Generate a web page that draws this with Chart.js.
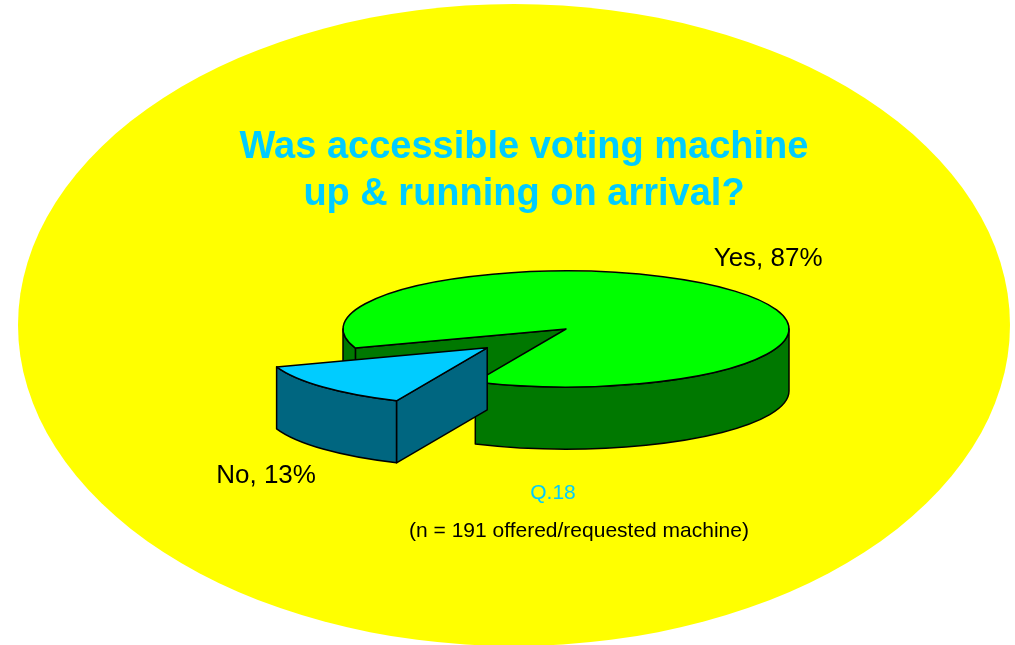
<!DOCTYPE html>
<html>
<head>
<meta charset="utf-8">
<title>Accessible voting machine</title>
<script src="https://cdn.jsdelivr.net/npm/chart.js@4.4.0/dist/chart.umd.min.js"></script>
<style>
  html, body { margin: 0; padding: 0; background: #ffffff; }
  #wrap { width: 1015px; height: 645px; position: relative; }
  canvas { display: block; }
</style>
</head>
<body>
<div id="wrap"><canvas id="chart" width="1015" height="645"></canvas></div>
<script>
// ---- data ----
const categories = ['Yes', 'No'];
const percentages = [87, 13];
const titleLines = ['Was accessible voting machine', 'up & running on arrival?'];
const questionLabel = 'Q.18';
const sampleNote = '(n = 191 offered/requested machine)';

// ---- look ----
const topColors = ['#00FF00', '#00CCFF'];
const wallColors = ['#007800', '#006680'];
const explodeFraction = [0, 0.48];    // how far each slice is pulled out, as share of radius
const TILT = 0.26;                    // vertical squash of the pie top
const DEPTH = 62;                     // height of the pie walls in px
const FONT = '"Liberation Sans", Arial, Helvetica, sans-serif';
const TAU = Math.PI * 2;

const backdrop = { cx: 514, cy: 325, rx: 496, ry: 321, color: '#FFFF00' };
const labelOffsets = [{ dx: 38, dy: -24 }, { dx: -57, dy: 34 }];

// geometry of one slice in screen space
function sliceGeometry(arc, i) {
  const p = arc.getProps(['x', 'y', 'startAngle', 'endAngle', 'outerRadius'], true);
  const mid = (p.startAngle + p.endAngle) / 2;
  const ex = explodeFraction[i] * p.outerRadius;
  const cx = p.x + Math.cos(mid) * ex;
  const cy = p.y + Math.sin(mid) * ex * TILT;
  const R = p.outerRadius;
  const P = (a, r, z) => [cx + r * Math.cos(a), cy + r * Math.sin(a) * TILT + z];
  return { x: p.x, y: p.y, s: p.startAngle, e: p.endAngle, mid, cx, cy, R, P };
}

function polygon(ctx, pts) {
  ctx.beginPath();
  ctx.moveTo(pts[0][0], pts[0][1]);
  for (let k = 1; k < pts.length; k++) ctx.lineTo(pts[k][0], pts[k][1]);
  ctx.closePath();
}

// draws the walls, lets Chart.js paint the squashed top, then outlines it
function drawSlice3D(ctx, arc, i, baseDraw, area) {
  const g = sliceGeometry(arc, i);
  const { s, e, cx, cy, R, P } = g;
  const ry = R * TILT;
  ctx.save();
  ctx.lineWidth = 1.5;
  ctx.strokeStyle = '#000000';
  ctx.lineJoin = 'round';
  ctx.fillStyle = wallColors[i];

  // radial faces that turn toward the viewer
  const faces = [];
  if (Math.cos(s) < 0) faces.push(s);
  if (Math.cos(e) > 0) faces.push(e);
  faces.forEach(a => {
    polygon(ctx, [P(a, 0, 0), P(a, R, 0), P(a, R, DEPTH), P(a, 0, DEPTH)]);
    ctx.fill();
    ctx.stroke();
  });

  // curved outer wall, front half only
  for (let k = Math.floor(s / TAU) - 1; k <= Math.ceil(e / TAU) + 1; k++) {
    const a = Math.max(s, k * TAU);
    const b = Math.min(e, k * TAU + Math.PI);
    if (b - a > 1e-4) {
      ctx.beginPath();
      ctx.ellipse(cx, cy, R, ry, 0, a, b, false);
      ctx.ellipse(cx, cy + DEPTH, R, ry, 0, b, a, true);
      ctx.closePath();
      ctx.fill();
      ctx.stroke();
    }
  }

  // top face painted by the arc element itself
  ctx.save();
  ctx.translate(cx, cy);
  ctx.scale(1, TILT);
  ctx.translate(-g.x, -g.y);
  baseDraw.call(arc, ctx, area);
  ctx.restore();

  // top outline
  const c0 = P(s, 0, 0), c1 = P(s, R, 0);
  ctx.beginPath();
  ctx.moveTo(c0[0], c0[1]);
  ctx.lineTo(c1[0], c1[1]);
  ctx.ellipse(cx, cy, R, ry, 0, s, e, false);
  ctx.closePath();
  ctx.stroke();
  ctx.restore();
}

const pie3d = {
  id: 'pie3d',
  beforeDraw(chart) {
    const ctx = chart.ctx;
    ctx.save();
    ctx.fillStyle = '#ffffff';
    ctx.fillRect(0, 0, chart.width, chart.height);
    ctx.fillStyle = backdrop.color;
    ctx.beginPath();
    ctx.ellipse(backdrop.cx, backdrop.cy, backdrop.rx, backdrop.ry, 0, 0, TAU);
    ctx.fill();
    ctx.restore();
  },
  beforeDatasetsDraw(chart) {
    const meta = chart.getDatasetMeta(0);
    meta.data.forEach((arc, i) => {
      if (arc._wrapped3d) return;
      const baseDraw = Object.getPrototypeOf(arc).draw;
      arc.draw = function (ctx, area) { drawSlice3D(ctx, this, i, baseDraw, area); };
      arc._wrapped3d = true;
    });
  },
  afterDraw(chart) {
    const ctx = chart.ctx;
    ctx.save();
    // title
    ctx.fillStyle = '#00CCFF';
    ctx.textAlign = 'center';
    ctx.textBaseline = 'alphabetic';
    ctx.font = 'bold 38px ' + FONT;
    ctx.fillText(titleLines[0], 524, 158);
    ctx.fillText(titleLines[1], 524, 205);

    // slice labels
    const meta = chart.getDatasetMeta(0);
    ctx.fillStyle = '#000000';
    ctx.font = '26px ' + FONT;
    meta.data.forEach((arc, i) => {
      const g = sliceGeometry(arc, i);
      const front = Math.sin(g.mid) > 0;
      const rim = g.P(g.mid, g.R, front ? DEPTH : 0);
      const off = labelOffsets[i];
      ctx.fillText(categories[i] + ', ' + percentages[i] + '%', rim[0] + off.dx, rim[1] + off.dy);
    });

    // footnotes
    ctx.fillStyle = '#00CCFF';
    ctx.font = '21px ' + FONT;
    ctx.fillText(questionLabel, 553, 499);
    ctx.fillStyle = '#000000';
    ctx.font = '21px ' + FONT;
    ctx.fillText(sampleNote, 579, 537);
    ctx.restore();
  }
};

new Chart(document.getElementById('chart'), {
  type: 'pie',
  data: {
    labels: categories,
    datasets: [{
      data: percentages,
      backgroundColor: topColors,
      borderWidth: 0,
      clip: false
    }]
  },
  options: {
    responsive: false,
    animation: false,
    events: [],
    rotation: 250.8,
    radius: 223,
    layout: { padding: { left: 366, right: 249, top: 129, bottom: 116 } },
    plugins: {
      legend: { display: false },
      tooltip: { enabled: false },
      title: { display: false }
    }
  },
  plugins: [pie3d]
});
</script>
</body>
</html>
